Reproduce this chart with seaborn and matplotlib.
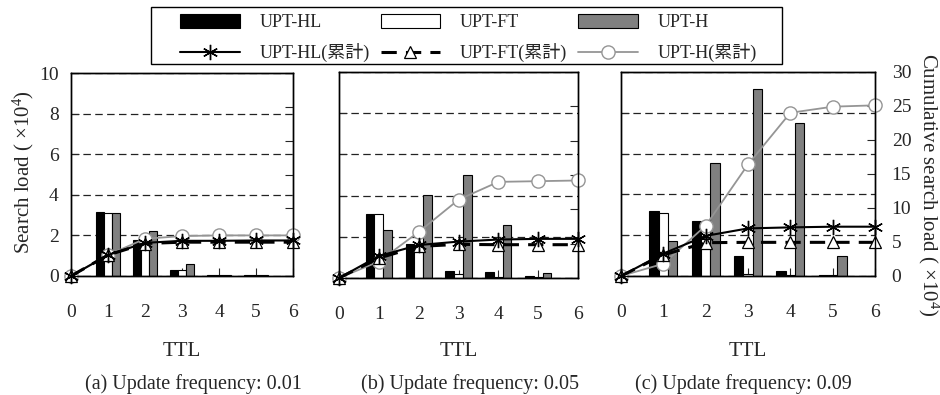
import matplotlib
matplotlib.use("Agg")
import matplotlib.pyplot as plt
from matplotlib.patches import Patch, Rectangle
from matplotlib.lines import Line2D
import seaborn as sns
import pandas as pd

# ---------------- data ----------------
ttl = [0, 1, 2, 3, 4, 5, 6]
series_names = ["UPT-HL", "UPT-FT", "UPT-H"]
cum_names = ["UPT-HL(累計)", "UPT-FT(累計)", "UPT-H(累計)"]

# (a) update frequency 0.01  (search load, x10^4)
hl_a = [0, 3.15, 1.75, 0.28, 0.05, 0.05, 0]
ft_a = [0, 3.10, 1.70, 0.30, 0.05, 0.05, 0]
h_a = [0, 3.10, 2.20, 0.60, 0.05, 0.05, 0]
hl_cum_a = [0, 3.1, 4.9, 5.2, 5.2, 5.25, 5.25]
ft_cum_a = [0, 3.1, 4.8, 5.0, 5.0, 5.0, 5.0]
h_cum_a = [0, 3.1, 5.5, 5.9, 6.0, 6.0, 6.0]

# (b) update frequency 0.05
hl_b = [0, 3.10, 1.65, 0.35, 0.28, 0.08, 0]
ft_b = [0, 3.10, 1.60, 0.20, 0.05, 0.03, 0]
h_b = [0, 2.35, 4.05, 5.00, 2.55, 0.25, 0]
hl_cum_b = [0, 3.2, 4.8, 5.3, 5.6, 5.7, 5.7]
ft_cum_b = [0, 2.9, 4.6, 4.9, 4.85, 4.85, 4.85]
h_cum_b = [0, 2.4, 6.7, 11.4, 14.0, 14.1, 14.2]

# (c) update frequency 0.09
hl_c = [0, 3.20, 2.70, 0.98, 0.25, 0.05, 0]
ft_c = [0, 3.10, 1.80, 0.10, 0.03, 0.03, 0]
h_c = [0, 1.70, 5.55, 9.15, 7.50, 0.98, 0]
hl_cum_c = [0, 3.3, 5.9, 7.0, 7.15, 7.25, 7.25]
ft_cum_c = [0, 3.1, 4.9, 4.95, 4.95, 4.95, 4.95]
h_cum_c = [0, 1.8, 7.4, 16.4, 24.0, 24.9, 25.1]

captions = ["(a) Update frequency: 0.01",
            "(b) Update frequency: 0.05",
            "(c) Update frequency: 0.09"]
left_ticks = [0, 2, 4, 6, 8, 10]
right_ticks = [0, 5, 10, 15, 20, 25, 30]

# ---------------- style ----------------
sns.set_style("white")
plt.rcParams["font.family"] = ["Liberation Serif", "Noto Sans CJK JP"]
plt.rcParams["mathtext.fontset"] = "custom"
plt.rcParams["mathtext.rm"] = "Liberation Serif"
plt.rcParams["mathtext.it"] = "Liberation Serif:italic"
plt.rcParams["axes.edgecolor"] = "black"

W, H = 940, 395
fig = plt.figure(figsize=(W / 100, H / 100), dpi=100)

bar_colors = ["black", "white", "#808080"]
GRAY_LINE = "#959595"

# panel boxes in pixels: left, right, top, bottom
boxes = [(71, 293, 73, 276), (339, 578, 72, 278), (621, 875, 72, 276)]
cap_x = [193, 470, 743]

panels = [
    (hl_a, ft_a, h_a, hl_cum_a, ft_cum_a, h_cum_a),
    (hl_b, ft_b, h_b, hl_cum_b, ft_cum_b, h_cum_b),
    (hl_c, ft_c, h_c, hl_cum_c, ft_cum_c, h_cum_c),
]

FS = 14
ast = (6, 2, 0)

for i, (box, data) in enumerate(zip(boxes, panels)):
    l, r, t, b = box
    ax = fig.add_axes([l / W, 1 - b / H, (r - l) / W, (b - t) / H])
    hl, ft, hh, hlc, ftc, hc = data
    df = pd.DataFrame({
        "TTL": ttl * 3,
        "load": hl + ft + hh,
        "series": [series_names[0]] * 7 + [series_names[1]] * 7 + [series_names[2]] * 7,
    })
    sns.barplot(data=df, x="TTL", y="load", hue="series", hue_order=series_names,
                palette=bar_colors, edgecolor="black", linewidth=0.8,
                width=0.66, native_scale=True, ax=ax, legend=False, zorder=2)
    ax.set_xlim(0, 6)
    ax.set_ylim(0, 10)
    ax.set_yticks(left_ticks)
    ax.set_xticks(ttl)
    ax.set_xticklabels([str(v) for v in ttl])
    ax.set_axisbelow(True)
    ax.yaxis.grid(True, linestyle=(0, (6, 3.5)), color="#222222", linewidth=0.9)
    ax.xaxis.grid(False)
    for s in ax.spines.values():
        s.set_visible(True)
        s.set_color("black")
        s.set_linewidth(1.0)
    ax.tick_params(axis="x", direction="in", length=6, width=0.8, pad=20,
                   labelsize=FS, bottom=True)
    ax.tick_params(axis="y", direction="in", length=6, width=0.8, pad=9,
                   labelsize=FS, left=True, labelleft=(i == 0))
    ax.set_xlabel("")
    ax.set_ylabel("")

    ax2 = ax.twinx()
    ax2.set_ylim(0, 30)
    sns.lineplot(x=ttl, y=hc, ax=ax2, color=GRAY_LINE, linewidth=1.3,
                 marker="o", markersize=9.5, markerfacecolor="white",
                 markeredgecolor=GRAY_LINE, markeredgewidth=1.0, clip_on=False)
    sns.lineplot(x=ttl, y=ftc, ax=ax2, color="black", linewidth=2.2,
                 linestyle=(0, (5, 3)), marker="^", markersize=9,
                 markerfacecolor="white", markeredgecolor="black",
                 markeredgewidth=0.9, clip_on=False)
    sns.lineplot(x=ttl, y=hlc, ax=ax2, color="black", linewidth=1.5,
                 marker=ast, markersize=11, markeredgecolor="black",
                 markeredgewidth=1.0, clip_on=False)
    ax2.set_xlim(0, 6)
    ax2.set_yticks(right_ticks)
    ax2.tick_params(axis="y", direction="in", length=6, width=0.8, pad=12,
                    labelsize=FS, right=True, labelright=(i == 2))
    ax2.set_ylabel("")
    for s in ax2.spines.values():
        s.set_color("black")
        s.set_linewidth(1.0)

    cx = (l + r) / 2
    fig.text(cx / W, 1 - 352 / H, "TTL", ha="center", va="center", fontsize=15)
    fig.text(cap_x[i] / W, 1 - 384 / H, captions[i], ha="center", va="center",
             fontsize=14.5)

fig.text(23 / W, 1 - 172 / H, "Search load ( ×10$^{4}$)", rotation=90,
         ha="center", va="center", fontsize=15)
fig.text(929 / W, 1 - 185 / H, "Cumulative search load ( ×10$^{4}$)",
         rotation=-90, ha="center", va="center", fontsize=15)

# ---------------- legend ----------------
handles = [
    Patch(facecolor="black", edgecolor="black", linewidth=0.8),
    Line2D([], [], color="black", linewidth=1.5, marker=ast, markersize=11,
           markeredgecolor="black", markeredgewidth=1.0),
    Patch(facecolor="white", edgecolor="black", linewidth=0.8),
    Line2D([], [], color="black", linewidth=2.2, linestyle=(0, (5, 3)),
           marker="^", markersize=9, markerfacecolor="white",
           markeredgecolor="black", markeredgewidth=0.9),
    Patch(facecolor="#808080", edgecolor="black", linewidth=0.8),
    Line2D([], [], color=GRAY_LINE, linewidth=1.3, marker="o", markersize=9.5,
           markerfacecolor="white", markeredgecolor=GRAY_LINE,
           markeredgewidth=1.0),
]
labels = [series_names[0], cum_names[0], series_names[1], cum_names[1],
          series_names[2], cum_names[2]]
leg = fig.legend(handles, labels, ncol=3, loc="upper left",
                 bbox_to_anchor=(180 / W, 1 - 14 / H), borderaxespad=0,
                 frameon=False, fontsize=13, handlelength=3.3,
                 handleheight=0.8, handletextpad=1.1, columnspacing=0.6,
                 labelspacing=0.66, borderpad=0)
fig.add_artist(Rectangle((151 / W, 1 - 64 / H), 631 / W, 57 / H,
                         transform=fig.transFigure, fill=False,
                         edgecolor="black", linewidth=1.0))

fig.savefig("out.png", dpi=100, facecolor="white")
